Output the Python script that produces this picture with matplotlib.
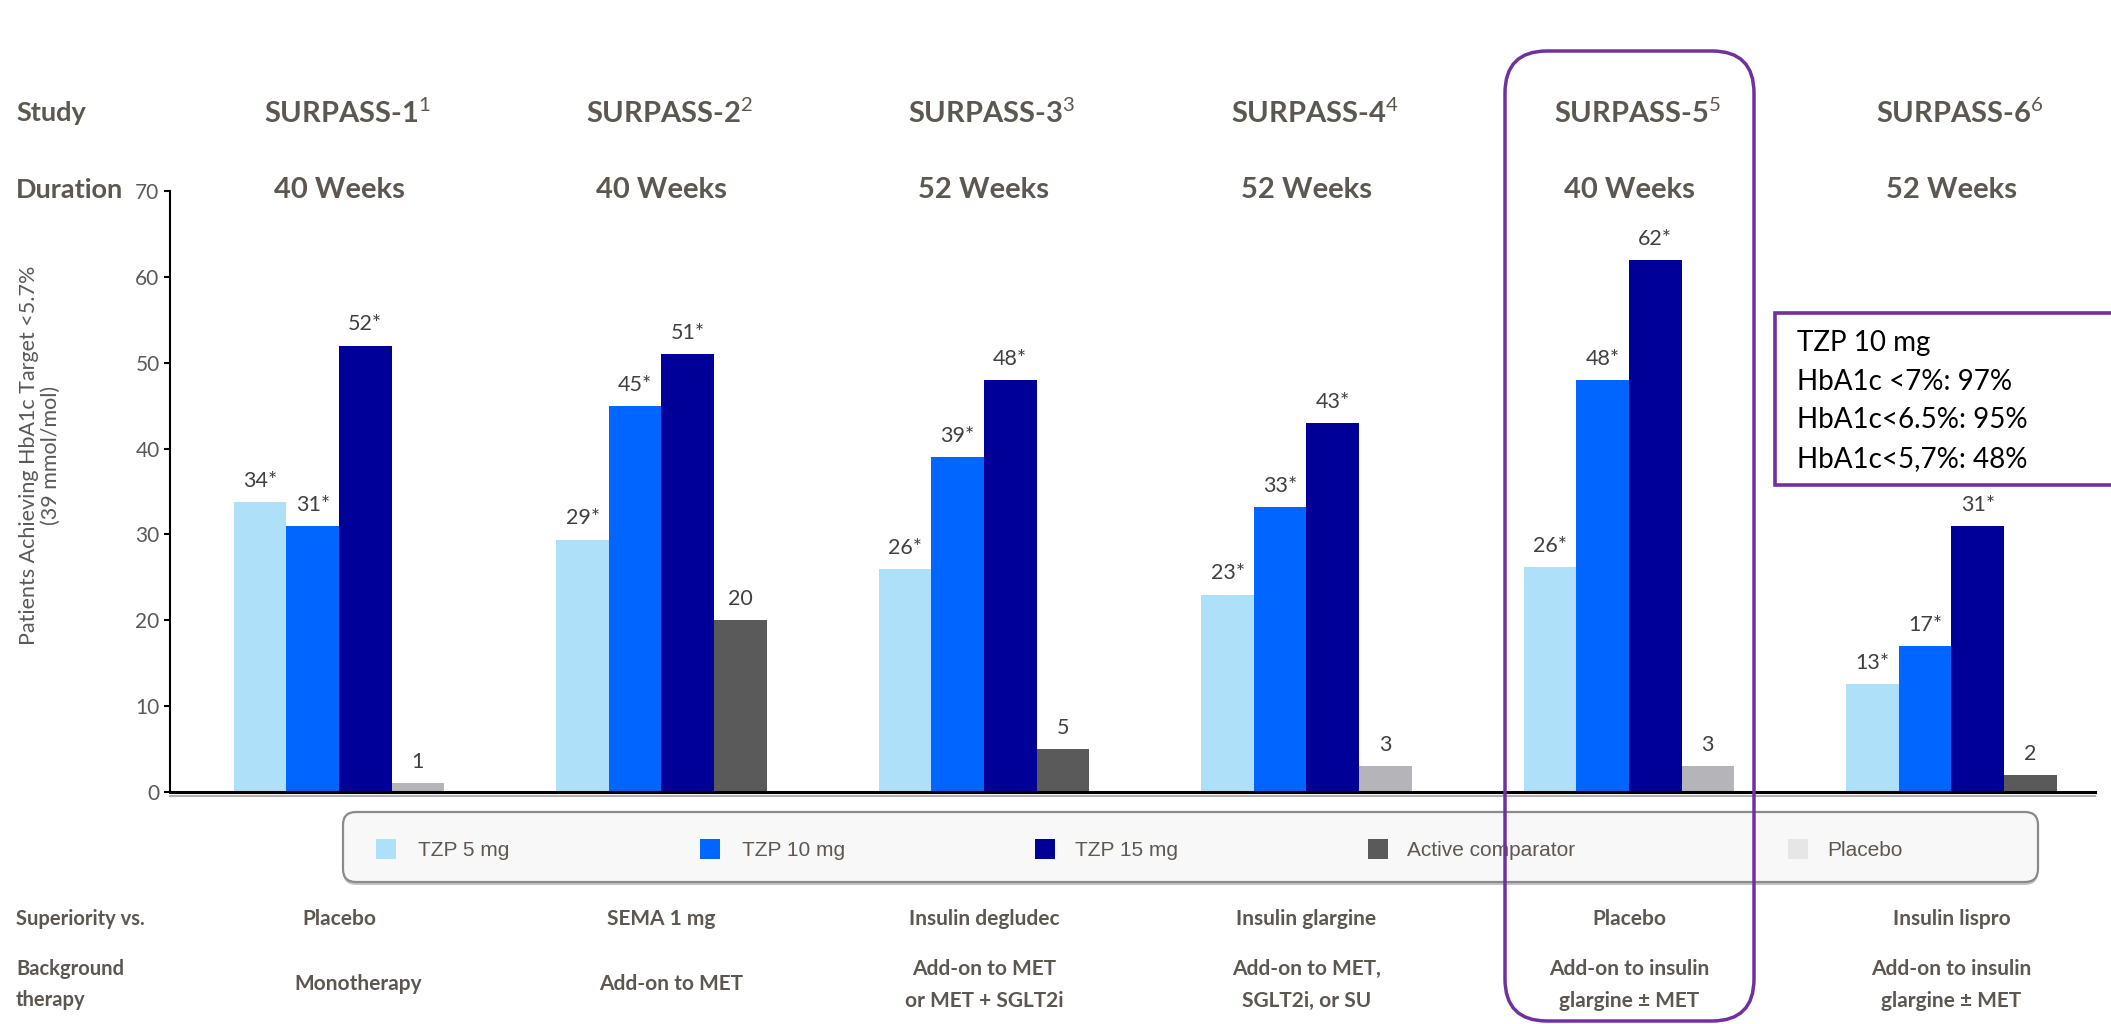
import numpy as np
import matplotlib.pyplot as plt
import matplotlib.transforms as transforms
from matplotlib.patches import FancyBboxPatch, Rectangle

plt.rcParams['font.family'] = ['Lato', 'DejaVu Sans']
plt.rcParams['mathtext.fontset'] = 'custom'
plt.rcParams['mathtext.rm'] = 'Lato'

# Data
studies = ['SURPASS-1', 'SURPASS-2', 'SURPASS-3', 'SURPASS-4', 'SURPASS-5', 'SURPASS-6']
refs = ['1', '2', '3', '4', '5', '6']
durations = ['40 Weeks', '40 Weeks', '52 Weeks', '52 Weeks', '40 Weeks', '52 Weeks']
superiority = ['Placebo', 'SEMA 1 mg', 'Insulin degludec', 'Insulin glargine', 'Placebo', 'Insulin lispro']
background = ['Monotherapy', 'Add-on to MET', 'Add-on to MET\nor MET + SGLT2i',
              'Add-on to MET,\nSGLT2i, or SU', 'Add-on to insulin\nglargine \u00b1 MET',
              'Add-on to insulin\nglargine \u00b1 MET']

tzp5 = [33.8, 29.4, 26, 23, 26.2, 12.6]
tzp10 = [31, 45, 39, 33.2, 48, 17]
tzp15 = [52, 51, 48, 43, 62, 31]
comparator = [1, 20, 5, 3, 3, 2]
comparator_kind = ['placebo', 'active', 'active', 'placebo', 'placebo', 'active']

tzp5_labels = ['34*', '29*', '26*', '23*', '26*', '13*']
tzp10_labels = ['31*', '45*', '39*', '33*', '48*', '17*']
tzp15_labels = ['52*', '51*', '48*', '43*', '62*', '31*']
comparator_labels = ['1', '20', '5', '3', '3', '2']

legend_names = ['TZP 5 mg', 'TZP 10 mg', 'TZP 15 mg', 'Active comparator', 'Placebo']
info_lines = ['TZP 10 mg', 'HbA1c <7%: 97%', 'HbA1c<6.5%: 95%', 'HbA1c<5,7%: 48%']

# Colours
C5 = '#aee1f9'
C10 = '#0066ff'
C15 = '#000099'
C_ACT = '#5a5a5a'
C_PBO = '#b4b4b9'
C_PBO_LEG = '#e6e6e6'
HEAD = '#5d5751'
PURPLE = '#7030a0'

W, H = 2111, 1024
fig = plt.figure(figsize=(W / 100, H / 100), dpi=100)

def fy(py):
    # pixel row from top -> figure fraction
    return 1 - py / H

ax = fig.add_axes([170 / W, fy(792), (2095 - 170) / W, (792 - 191) / H])

x = np.arange(len(studies))
w = 0.163
cmp_colors = [C_ACT if k == 'active' else C_PBO for k in comparator_kind]
series = [(tzp5, C5, tzp5_labels), (tzp10, C10, tzp10_labels),
          (tzp15, C15, tzp15_labels), (comparator, cmp_colors, comparator_labels)]

for i, (vals, col, labs) in enumerate(series):
    pos = x + (i - 1.5) * w
    ax.bar(pos, vals, width=w, color=col, zorder=2)
    for px, v, lab in zip(pos, vals, labs):
        ax.annotate(lab, (px, v), xytext=(0, 8), textcoords='offset points',
                    ha='center', va='bottom', fontsize=15.5, color='#404040')

ax.set_xlim(-0.524, 5.445)
ax.set_ylim(0, 70)
ax.set_yticks(range(0, 80, 10))
ax.set_xticks([])
ax.tick_params(axis='y', length=4.5, width=1.5, colors='black', labelcolor='#595959',
               labelsize=15, pad=3)
for s in ['top', 'right']:
    ax.spines[s].set_visible(False)
ax.spines['left'].set_linewidth(1.5)
ax.spines['bottom'].set_linewidth(2.2)
ax.spines['bottom'].set_zorder(3)
ax.axhline(-0.45, color='#b0b0b0', lw=1.5, clip_on=False, zorder=1)

fig.text(40 / W, fy(455), 'Patients Achieving HbA1c Target <5.7%\n(39 mmol/mol)',
         rotation=90, ha='center', va='center', fontsize=15.5, color='#595959',
         multialignment='center', linespacing=1.1)

# Header rows
trans = transforms.blended_transform_factory(ax.transData, fig.transFigure)
fig.text(16 / W, fy(113), 'Study', ha='left', va='center', fontsize=19.5,
         fontweight='bold', color=HEAD)
fig.text(16 / W, fy(190), 'Duration', ha='left', va='center', fontsize=19.5,
         fontweight='bold', color=HEAD)
for xi, st, rf, du in zip(x, studies, refs, durations):
    ax.text(xi + 0.025, fy(113), st + '$^{' + rf + '}$', transform=trans, ha='center',
            va='center', fontsize=21, fontweight='bold', color=HEAD)
    ax.text(xi, fy(190), du, transform=trans, ha='center', va='center',
            fontsize=21, fontweight='bold', color=HEAD)

# Bottom rows
bg_shift = [0.058, 0.03, 0, 0, 0, 0]
fig.text(16 / W, fy(919), 'Superiority vs.', ha='left', va='center', fontsize=14.5,
         fontweight='bold', color=HEAD)
fig.text(16 / W, fy(969), 'Background', ha='left', va='center', fontsize=14.5,
         fontweight='bold', color=HEAD)
fig.text(16 / W, fy(1000), 'therapy', ha='left', va='center', fontsize=14.5,
         fontweight='bold', color=HEAD)
for xi, sup, bg, sh in zip(x, superiority, background, bg_shift):
    ax.text(xi, fy(919), sup, transform=trans, ha='center', va='center',
            fontsize=15, fontweight='bold', color=HEAD)
    lines = bg.split('\n')
    rows = [984] if len(lines) == 1 else [969, 1001]
    for ln, r in zip(lines, rows):
        ax.text(xi + sh, fy(r), ln, transform=trans, ha='center', va='center',
                fontsize=15, fontweight='bold', color=HEAD)

# Legend box
inch = fig.dpi_scale_trans
def pin(px, py):
    return px / 100, (H - py) / 100

lx0, ly0 = pin(343, 882)
shadow = FancyBboxPatch((lx0, ly0 - 0.03), (2038 - 343) / 100, 0.70,
                        boxstyle='round,pad=0,rounding_size=0.13',
                        transform=inch, facecolor='#c4c4c4', edgecolor='none', zorder=4)
lbox = FancyBboxPatch((lx0, ly0), (2038 - 343) / 100, 0.70,
                      boxstyle='round,pad=0,rounding_size=0.13',
                      transform=inch, facecolor='#f8f8f8', edgecolor='#8a8a8a',
                      lw=1.6, zorder=5)
fig.patches.extend([shadow, lbox])
leg_colors = [C5, C10, C15, C_ACT, C_PBO_LEG]
mark_x = [376, 700, 1035, 1368, 1788]
text_x = [418, 742, 1075, 1407, 1827]
for name, col, mx, tx in zip(legend_names, leg_colors, mark_x, text_x):
    mx0, my0 = pin(mx, 859)
    fig.patches.append(Rectangle((mx0, my0), 0.2, 0.2, transform=inch,
                                 facecolor=col, edgecolor='none', zorder=6))
    fig.text(tx / W, fy(851), name, ha='left', va='center', fontsize=15,
             color='#5f5750', family=['Liberation Sans', 'DejaVu Sans'], zorder=6)

# Highlight around SURPASS-5
hx0, hy0 = pin(1505, 1021)
hl = FancyBboxPatch((hx0, hy0), (1754 - 1505) / 100, (1021 - 51) / 100,
                    boxstyle='round,pad=0,rounding_size=0.42', transform=inch,
                    facecolor='none', edgecolor=PURPLE, lw=2.5, zorder=8)
fig.patches.append(hl)

# Info box
ix0, iy0 = pin(1775, 485)
ibox = Rectangle((ix0, iy0), 4.0, (485 - 313) / 100, transform=inch,
                 facecolor='white', edgecolor=PURPLE, lw=2.6, zorder=8)
fig.patches.append(ibox)
for ln, r in zip(info_lines, [343, 382, 420, 459]):
    fig.text(1797 / W, fy(r), ln, ha='left', va='center', fontsize=20,
             color='black', zorder=9)

fig.savefig('out.png', dpi=100)
